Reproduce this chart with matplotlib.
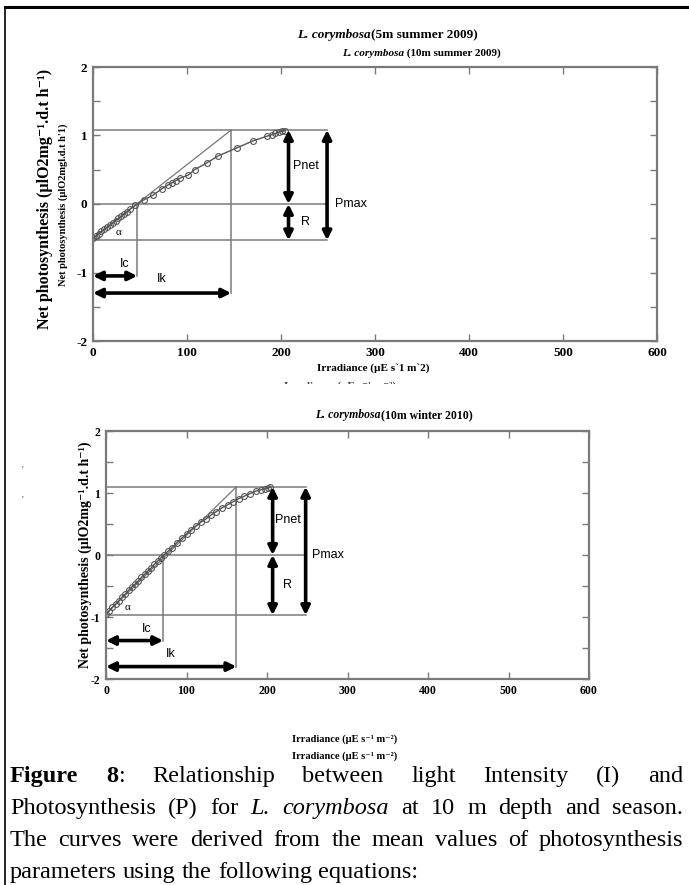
import matplotlib
matplotlib.use("Agg")
import matplotlib.pyplot as plt
from matplotlib.patches import Rectangle
from matplotlib.ticker import MultipleLocator

W, H = 689, 885
SERIF = ["Liberation Serif", "DejaVu Serif"]
SANS = ["Liberation Sans", "DejaVu Sans"]

# summer 2009 curve (10 m)
summer_irr = [0, 3, 6, 9, 12, 15, 18, 21, 24, 27, 30, 33, 36, 39, 45, 54, 64, 73, 80, 84,
              88, 93, 101, 108, 121, 133, 153, 170, 185, 190, 194, 198, 201, 204]
summer_p = [-0.50, -0.47, -0.44, -0.40, -0.37, -0.34, -0.31, -0.28, -0.25, -0.21, -0.18,
            -0.15, -0.12, -0.08, -0.02, 0.06, 0.13, 0.22, 0.28, 0.31, 0.34, 0.38, 0.42,
            0.50, 0.60, 0.70, 0.82, 0.92, 0.99, 1.01, 1.03, 1.05, 1.06, 1.07]
summer_pars = {"pmax_top": 1.08, "resp": -0.53, "ic": 47, "ik": 147,
               "arrow_net": 208, "arrow_max": 249, "ic_y": -1.05, "ik_y": -1.30}

# winter 2010 curve (10 m)
winter_irr = [0, 4, 8, 12, 16, 20, 24, 28, 32, 36, 40, 44, 48, 52, 56, 60, 64, 68, 72, 77,
              82, 88, 94, 100, 106, 112, 118, 124, 130, 137, 144, 151, 158, 165, 172, 179,
              186, 192, 197, 201, 204]
winter_p = [-0.95, -0.90, -0.84, -0.79, -0.74, -0.68, -0.63, -0.57, -0.52, -0.47, -0.42,
            -0.36, -0.31, -0.26, -0.21, -0.15, -0.10, -0.05, 0.00, 0.06, 0.12, 0.20, 0.27,
            0.34, 0.41, 0.47, 0.53, 0.58, 0.64, 0.70, 0.76, 0.81, 0.86, 0.91, 0.95, 0.99,
            1.03, 1.05, 1.07, 1.08, 1.09]
winter_pars = {"pmax_top": 1.10, "resp": -0.97, "ic": 71, "ik": 162,
               "arrow_net": 207, "arrow_max": 248, "ic_y": -1.38, "ik_y": -1.80}

x_ticks = [0, 100, 200, 300, 400, 500, 600]
y_ticks = [-2, -1, 0, 1, 2]

fig = plt.figure(figsize=(W / 100, H / 100), dpi=100)


def px_axes(left, top, right, bottom):
    return fig.add_axes([left / W, 1 - bottom / H, (right - left) / W, (bottom - top) / H])


def arrow(ax, x0, y0, x1, y1):
    ax.annotate("", xy=(x1, y1), xytext=(x0, y0),
                arrowprops=dict(arrowstyle="<|-|>", color="black", lw=2.6,
                                mutation_scale=13, shrinkA=0, shrinkB=0))


def pi_panel(ax, irr, p, pars, tick_size):
    gray = "#7a7a7a"
    top, resp = pars["pmax_top"], pars["resp"]
    ic, ik = pars["ic"], pars["ik"]
    xn, xm = pars["arrow_net"], pars["arrow_max"]

    # guide lines
    for yy in (top, 0, resp):
        ax.plot([0, xm], [yy, yy], color=gray, lw=1.1)
    ax.plot([ic, ic], [0, pars["ic_y"]], color=gray, lw=1.1)
    ax.plot([ik, ik], [top, pars["ik_y"]], color=gray, lw=1.1)
    ax.plot([0, ik], [p[0], top], color="#777777", lw=0.9)

    ax.plot(irr, p, color="#555555", lw=1.0, marker="o", ms=4.2,
            mfc="none", mec="#555555", mew=0.8)

    arrow(ax, xn, top, xn, 0)
    arrow(ax, xn, 0, xn, resp)
    arrow(ax, xm, top, xm, resp)
    arrow(ax, 0, pars["ic_y"], ic, pars["ic_y"])
    arrow(ax, 0, pars["ik_y"], ik, pars["ik_y"])

    ax.text((xn + xm) / 2 - 2, top * 0.52, "Pnet", fontsize=9, family=SANS, ha="center", va="center")
    ax.text((xn + xm) / 2 - 2, resp * 0.5, "R", fontsize=9, family=SANS, ha="center", va="center")
    ax.text(xm + 8, 0, "Pmax", fontsize=9, family=SANS, ha="left", va="center")
    ax.text(27, resp + 0.12, "α", fontsize=8, family=SERIF, ha="center", va="center")
    ax.text(ic * 0.72, pars["ic_y"] + 0.18, "Ic", fontsize=9, family=SANS, ha="center", va="center")
    ax.text(ik * 0.5, pars["ik_y"] + 0.2, "Ik", fontsize=9, family=SANS, ha="center", va="center")

    ax.set_xlim(0, 600)
    ax.set_ylim(-2, 2)
    ax.set_xticks(x_ticks)
    ax.set_yticks(y_ticks)
    ax.set_yticklabels([str(v) for v in y_ticks])
    ax.yaxis.set_minor_locator(MultipleLocator(0.5))
    ax.tick_params(which="both", direction="in", top=True, right=True, length=5,
                   color=gray, width=1.0, labelsize=tick_size, pad=4)
    for lab in ax.get_xticklabels() + ax.get_yticklabels():
        lab.set_family(SERIF)
        lab.set_fontweight("bold")
    for s in ax.spines.values():
        s.set_color(gray)
        s.set_linewidth(1.6)


ax1 = px_axes(93, 67, 657, 341)
pi_panel(ax1, summer_irr, summer_p, summer_pars, 9.5)

ax2 = px_axes(106, 431, 589, 679)
pi_panel(ax2, winter_irr, winter_p, winter_pars, 8.5)


def fx(x):
    return x / W


def fy(y):
    return 1 - y / H


def title(x, y, rest, size):
    fig.text(fx(x), fy(y), "L. corymbosa", family=SERIF, style="italic", weight="bold",
             fontsize=size, ha="right", va="center")
    fig.text(fx(x), fy(y), rest, family=SERIF, weight="bold", fontsize=size,
             ha="left", va="center")


title(371, 35, "(5m summer 2009)", 9.5)
title(404, 53, " (10m summer 2009)", 8)
title(381, 415, "(10m winter 2010)", 8.5)

ylab = "Net photosynthesis (µlO2mg⁻¹.d.t h⁻¹)"
fig.text(fx(45), fy(199), ylab, rotation=90, family=SERIF, weight="bold",
         fontsize=11.5, ha="center", va="center")
fig.text(fx(63), fy(205), "Net photosynthesis (µlO2mgl.d.t h'1)", rotation=90,
         family=SERIF, weight="bold", fontsize=7.5, ha="center", va="center")
fig.text(fx(85), fy(555), ylab, rotation=90, family=SERIF, weight="bold",
         fontsize=10, ha="center", va="center")

fig.text(fx(373), fy(368), "Irradiance (µE s`1 m`2)", family=SERIF, weight="bold",
         fontsize=8, ha="center", va="center")
# lower label cut off by the next panel, only its tops show
cut = fig.text(fx(340), fy(386), "Irradiance (µE s⁻¹ m⁻²)", family=SERIF, weight="bold",
               fontsize=8, ha="center", va="center", color="#444444")
cut.set_clip_path(Rectangle((0, H - 384), W, 3, transform=None))

fig.text(fx(345), fy(739), "Irradiance (µE s⁻¹ m⁻²)", family=SERIF, weight="bold",
         fontsize=7.5, ha="center", va="center")
fig.text(fx(345), fy(756), "Irradiance (µE s⁻¹ m⁻²)", family=SERIF, weight="bold",
         fontsize=7.5, ha="center", va="center")

fig.text(fx(22), fy(470), "'", family=SERIF, fontsize=7, color="#555555", ha="center", va="center")
fig.text(fx(22), fy(500), "'", family=SERIF, fontsize=7, color="#555555", ha="center", va="center")

# frame
fig.add_artist(plt.Line2D([fx(5), fx(5)], [fy(7), 0], color="black", lw=1.2))
fig.add_artist(plt.Line2D([fx(5), 1], [fy(7), fy(7)], color="black", lw=2.2))

# caption, justified
lines = [
    [[("Figure", "b")], [("8", "b"), (":", "n")], [("Relationship", "n")], [("between", "n")],
     [("light", "n")], [("Intensity", "n")], [("(I)", "n")], [("and", "n")]],
    [[("Photosynthesis", "n")], [("(P)", "n")], [("for", "n")], [("L.", "i")],
     [("corymbosa", "i")], [("at", "n")], [("10", "n")], [("m", "n")], [("depth", "n")],
     [("and", "n")], [("season.", "n")]],
    [[(w, "n")] for w in "The curves were derived from the mean values of photosynthesis".split()],
    [[(w, "n")] for w in "parameters using the following equations:".split()],
]
baselines = [782, 814, 846, 878]
justify = [True, True, True, False]
x_left, x_right = 10, 683
renderer = fig.canvas.get_renderer()
style_kw = {"b": dict(weight="bold"), "n": dict(), "i": dict(style="italic")}


def text_width(s, size, **kw):
    t = fig.text(0, 0, s, family=SERIF, fontsize=size, **kw)
    w = t.get_window_extent(renderer).width
    t.remove()
    return w


# size the caption so the full third line sets with plain word spaces
probe = text_width("The curves were derived from the mean values of photosynthesis", 10)
cap_size = 10 * (x_right - x_left) / probe * 0.94
space = text_width("a a", cap_size) - 2 * text_width("a", cap_size)

for words, base, just in zip(lines, baselines, justify):
    placed = []
    widths = []
    for word in words:
        parts = []
        w_total = 0
        for txt, st in word:
            t = fig.text(0, fy(base), txt, family=SERIF, fontsize=cap_size, va="baseline",
                         ha="left", **style_kw[st])
            w = t.get_window_extent(renderer).width
            parts.append((t, w))
            w_total += w
        placed.append(parts)
        widths.append(w_total)
    if just:
        gap = (x_right - x_left - sum(widths)) / (len(words) - 1)
    else:
        gap = space
    x = x_left
    for parts, w_total in zip(placed, widths):
        xx = x
        for t, w in parts:
            t.set_x(fx(xx))
            xx += w
        x += w_total + gap

fig.savefig("out.png", dpi=100)
